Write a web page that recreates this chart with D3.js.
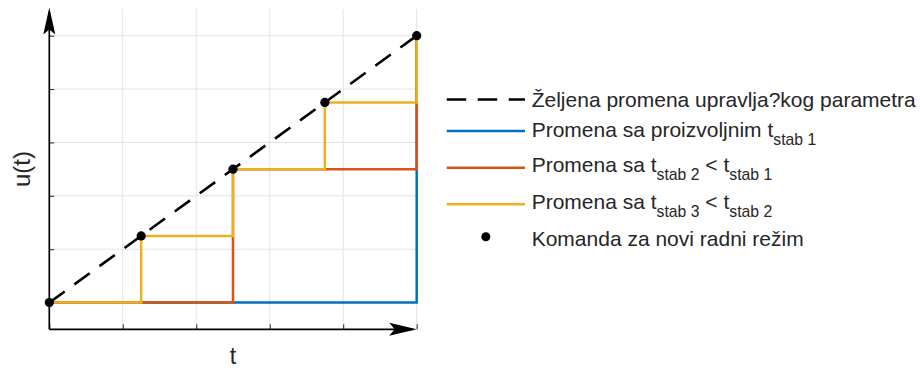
<!DOCTYPE html>
<html>
<head>
<meta charset="utf-8">
<script src="https://cdn.jsdelivr.net/npm/d3@7/dist/d3.min.js"></script>
<style>
  html, body { margin: 0; padding: 0; background: #fff; }
  svg { display: block; font-family: "Liberation Sans", Arial, sans-serif; }
</style>
</head>
<body>
<svg id="chart" width="920" height="369"></svg>
<script>
// Commands for a new operating mode (time, control value)
const commandT = [0, 0.25, 0.5, 0.75, 1];
const commandU = [0, 0.25, 0.5, 0.75, 1];

// Desired (ideal) ramp of the controlled parameter
const desiredT = [0, 1];
const desiredU = [0, 1];

// Step responses: the value is held until the next accepted command
const stab1T = [0, 1];
const stab1U = [0, 1];
const stab2T = [0, 0.5, 1];
const stab2U = [0, 0.5, 1];
const stab3T = [0, 0.25, 0.5, 0.75, 1];
const stab3U = [0, 0.25, 0.5, 0.75, 1];

// Grid / tick values
const xTicks = [0, 0.2, 0.4, 0.6, 0.8, 1];
const yTicks = [0, 0.2, 0.4, 0.6, 0.8, 1];

const colors = { blue: "#0072BD", red: "#D95319", yellow: "#EDB120", text: "#262626" };

const svg = d3.select("#chart");

const x = d3.scaleLinear().domain([0, 1]).range([49.3, 416.7]);
const y = d3.scaleLinear().domain([-0.1, 1.1]).range([329.3, 9]);

const zip = (ts, us) => ts.map((t, i) => ({ t, u: us[i] }));

// Grid
const grid = svg.append("g").attr("stroke", "#e3e3e3").attr("stroke-width", 1);
grid.selectAll("line.v").data(xTicks.slice(1)).join("line")
  .attr("x1", d => x(d)).attr("x2", d => x(d))
  .attr("y1", y(1.1)).attr("y2", y(-0.1));
grid.selectAll("line.h").data(yTicks).join("line")
  .attr("x1", x(0)).attr("x2", x(1))
  .attr("y1", d => y(d)).attr("y2", d => y(d));

// Inward ticks through d3 axes
const xAxis = svg.append("g").attr("transform", `translate(0,${y(-0.1)})`)
  .call(d3.axisTop(x).tickValues(xTicks).tickSize(5).tickFormat(""));
const yAxis = svg.append("g").attr("transform", `translate(${x(0)},0)`)
  .call(d3.axisRight(y).tickValues(yTicks).tickSize(5).tickFormat(""));
[xAxis, yAxis].forEach(a => {
  a.select(".domain").remove();
  a.selectAll(".tick line").attr("stroke", colors.text).attr("stroke-width", 1);
});

// Axis arrows
const axes = svg.append("g");
axes.append("line")
  .attr("x1", x(0)).attr("x2", x(1) - 4)
  .attr("y1", y(-0.1)).attr("y2", y(-0.1))
  .attr("stroke", "#000").attr("stroke-width", 1.7);
axes.append("line")
  .attr("x1", x(0)).attr("x2", x(0))
  .attr("y1", y(-0.1)).attr("y2", 12)
  .attr("stroke", "#000").attr("stroke-width", 1.7);
// arrowheads: tip, wing, notch, wing
const xTip = [x(1), y(-0.1)];
axes.append("path")
  .attr("d", `M${xTip[0]},${xTip[1]} L${xTip[0] - 27.5},${xTip[1] - 6.5} L${xTip[0] - 22},${xTip[1]} L${xTip[0] - 27.5},${xTip[1] + 6.5} Z`)
  .attr("fill", "#000");
const yTip = [x(0), 7.5];
axes.append("path")
  .attr("d", `M${yTip[0]},${yTip[1]} L${yTip[0] + 6},${yTip[1] + 27} L${yTip[0]},${yTip[1] + 22} L${yTip[0] - 6},${yTip[1] + 27} Z`)
  .attr("fill", "#000");

// Series
const line = d3.line().x(d => x(d.t)).y(d => y(d.u));
const stepLine = d3.line().x(d => x(d.t)).y(d => y(d.u)).curve(d3.curveStepAfter);

svg.append("path").datum(zip(stab1T, stab1U)).attr("d", stepLine)
  .attr("fill", "none").attr("stroke", colors.blue).attr("stroke-width", 2.5);
svg.append("path").datum(zip(stab2T, stab2U)).attr("d", stepLine)
  .attr("fill", "none").attr("stroke", colors.red).attr("stroke-width", 2.5);
svg.append("path").datum(zip(stab3T, stab3U)).attr("d", stepLine)
  .attr("fill", "none").attr("stroke", colors.yellow).attr("stroke-width", 2.5);

svg.append("path").datum(zip(desiredT, desiredU)).attr("d", line)
  .attr("fill", "none").attr("stroke", "#000").attr("stroke-width", 2.6)
  .attr("stroke-dasharray", "19,12");

svg.append("g").selectAll("circle").data(zip(commandT, commandU)).join("circle")
  .attr("cx", d => x(d.t)).attr("cy", d => y(d.u)).attr("r", 4.6).attr("fill", "#000");

// Axis labels
svg.append("text").attr("transform", "translate(30,169) rotate(-90)")
  .attr("text-anchor", "middle").attr("font-size", 24).attr("fill", colors.text).text("u(t)");
svg.append("text").attr("x", (x(0) + x(1)) / 2).attr("y", 364)
  .attr("text-anchor", "middle").attr("font-size", 23).attr("fill", colors.text).text("t");

// Legend
const legendItems = [
  { kind: "dash", stroke: "#000", parts: [["Željena promena upravlja?kog parametra", false]] },
  { kind: "line", stroke: colors.blue, parts: [["Promena sa proizvoljnim t", false], ["stab 1", true]] },
  { kind: "line", stroke: colors.red, parts: [["Promena sa t", false], ["stab 2", true], [" < t", false], ["stab 1", true]] },
  { kind: "line", stroke: colors.yellow, parts: [["Promena sa t", false], ["stab 3", true], [" < t", false], ["stab 2", true]] },
  { kind: "dot", stroke: "#000", parts: [["Komanda za novi radni režim", false]] }
];
const rowBaseline = [106.6, 137.4, 171.8, 208.8, 245.6];
const rowMark = [99.5, 131, 167.7, 204.3, 236.8];
const lx0 = 446.7, lx1 = 525, tx = 531.7, mainSize = 21, subSize = 15.75, subShift = 7.7;

const legend = svg.append("g");
legendItems.forEach((item, i) => {
  const g = legend.append("g");
  if (item.kind === "dot") {
    g.append("circle").attr("cx", (lx0 + lx1) / 2).attr("cy", rowMark[i]).attr("r", 4.5).attr("fill", "#000");
  } else {
    g.append("line").attr("x1", lx0).attr("x2", lx1).attr("y1", rowMark[i]).attr("y2", rowMark[i])
      .attr("stroke", item.stroke).attr("stroke-width", 2.5)
      .attr("stroke-dasharray", item.kind === "dash" ? "19.5,11.5" : null);
  }
  const t = g.append("text").attr("x", tx).attr("y", rowBaseline[i])
    .attr("font-size", mainSize).attr("fill", colors.text).attr("xml:space", "preserve")
    .style("white-space", "pre");
  let shifted = false;
  item.parts.forEach(([str, sub]) => {
    const ts = t.append("tspan").text(str);
    if (sub && !shifted) { ts.attr("dy", subShift).attr("font-size", subSize); shifted = true; }
    else if (!sub && shifted) { ts.attr("dy", -subShift); shifted = false; }
    else if (sub) { ts.attr("font-size", subSize); }
  });
});
</script>
</body>
</html>
